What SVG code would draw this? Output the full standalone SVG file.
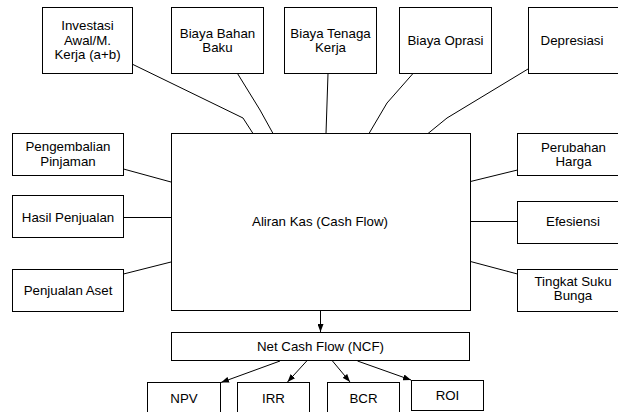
<svg xmlns="http://www.w3.org/2000/svg" width="618" height="412" viewBox="0 0 618 412">
<style>
.box{fill:#fff;stroke:#000;stroke-width:1}
.t{font-family:"Liberation Sans",Arial,sans-serif;font-size:13.3px;fill:#000;text-anchor:middle}
.c{fill:none;stroke:#000;stroke-width:1}
</style>
<defs>
<marker id="ah" markerUnits="userSpaceOnUse" markerWidth="8" markerHeight="6" refX="8" refY="3" orient="auto">
<path d="M0,0 L8,3 L0,6 z" fill="#000"/>
</marker>
</defs>
<rect width="618" height="412" fill="#fff"/>
<g id="connectors">
<polyline class="c" points="133,64.5 243,118 253,133.5"/>
<polyline class="c" points="237.5,73.5 260,110 273,133.5"/>
<polyline class="c" points="328,73.5 326,133.5"/>
<polyline class="c" points="413,73.5 387,103 369,133.5"/>
<polyline class="c" points="528,69 447,118 428,133.5"/>
<line class="c" x1="123.5" y1="169" x2="171" y2="182"/>
<line class="c" x1="123.5" y1="217.5" x2="171" y2="217.5"/>
<line class="c" x1="123.5" y1="274" x2="171" y2="262"/>
<line class="c" x1="470.5" y1="181.5" x2="517.5" y2="170"/>
<line class="c" x1="470.5" y1="221.5" x2="517.5" y2="221.5"/>
<line class="c" x1="470.5" y1="261.5" x2="517.5" y2="274"/>
<line class="c" x1="320.5" y1="311" x2="320.5" y2="332" marker-end="url(#ah)"/>
<line class="c" x1="280" y1="361" x2="221" y2="382.5" marker-end="url(#ah)"/>
<line class="c" x1="306.7" y1="361" x2="287.5" y2="382" marker-end="url(#ah)"/>
<line class="c" x1="332.5" y1="361" x2="350" y2="382" marker-end="url(#ah)"/>
<line class="c" x1="357.5" y1="361" x2="411" y2="380" marker-end="url(#ah)"/>
</g>
<g id="investasi"><rect class="box" x="42.5" y="7.5" width="90" height="66"/>
<text class="t" x="87.5" y="30">Investasi</text><text class="t" x="87.5" y="44.7">Awal/M.</text><text class="t" x="87.5" y="59.3">Kerja (a+b)</text></g>
<g id="bahan"><rect class="box" x="171.5" y="7.5" width="92" height="66"/>
<text class="t" x="217.5" y="37.5">Biaya Bahan</text><text class="t" x="217.5" y="51.5">Baku</text></g>
<g id="tenaga"><rect class="box" x="284.5" y="7.5" width="92" height="66"/>
<text class="t" x="330.5" y="37.5">Biaya Tenaga</text><text class="t" x="330.5" y="51.5">Kerja</text></g>
<g id="oprasi"><rect class="box" x="399.5" y="7.5" width="92" height="66"/>
<text class="t" x="445.5" y="45">Biaya Oprasi</text></g>
<g id="depresiasi"><rect class="box" x="528.5" y="7.5" width="92" height="66"/>
<text class="t" x="572" y="45">Depresiasi</text></g>
<g id="pengembalian"><rect class="box" x="12.5" y="133.5" width="111" height="42"/>
<text class="t" x="68" y="151">Pengembalian</text><text class="t" x="68" y="166">Pinjaman</text></g>
<g id="hasil"><rect class="box" x="12.5" y="195.5" width="111" height="42"/>
<text class="t" x="68" y="221.5">Hasil Penjualan</text></g>
<g id="aset"><rect class="box" x="12.5" y="269.5" width="111" height="42"/>
<text class="t" x="68" y="294.5">Penjualan Aset</text></g>
<g id="aliran"><rect class="box" x="171.5" y="133.5" width="299" height="177"/>
<text class="t" x="320" y="226">Aliran Kas (Cash Flow)</text></g>
<g id="perubahan"><rect class="box" x="517.5" y="133.5" width="113" height="42"/>
<text class="t" x="573.5" y="151.5">Perubahan</text><text class="t" x="573.5" y="166">Harga</text></g>
<g id="efesiensi"><rect class="box" x="517.5" y="201.5" width="113" height="42"/>
<text class="t" x="573" y="226">Efesiensi</text></g>
<g id="tingkat"><rect class="box" x="517.5" y="269.5" width="113" height="42"/>
<text class="t" x="573" y="285.7">Tingkat Suku</text><text class="t" x="573" y="300">Bunga</text></g>
<g id="ncf"><rect class="box" x="171.5" y="332.5" width="298" height="28"/>
<text class="t" x="320.5" y="351">Net Cash Flow (NCF)</text></g>
<g id="npv"><rect class="box" x="147.5" y="382.5" width="73" height="40"/>
<text class="t" x="184" y="402.5">NPV</text></g>
<g id="irr"><rect class="box" x="237.5" y="382.5" width="72" height="40"/>
<text class="t" x="273.5" y="402.5">IRR</text></g>
<g id="bcr"><rect class="box" x="327.5" y="382.5" width="72" height="40"/>
<text class="t" x="363.5" y="402.5">BCR</text></g>
<g id="roi"><rect class="box" x="411.5" y="380.5" width="72" height="30"/>
<text class="t" x="447.5" y="400">ROI</text></g>
</svg>
